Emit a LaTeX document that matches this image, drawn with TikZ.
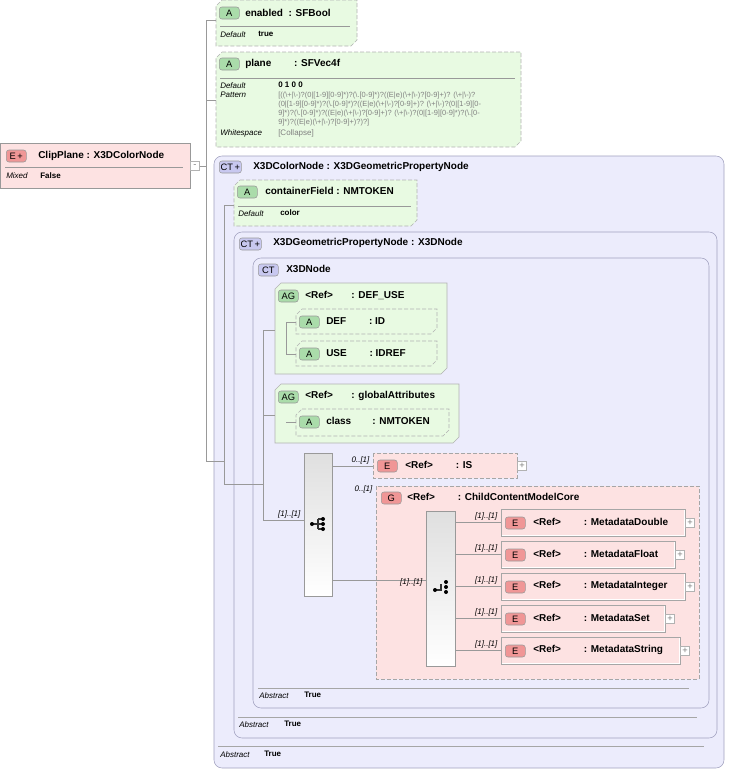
\documentclass[tikz,border=0pt]{standalone}
\usepackage{fontspec}
\setmainfont{Liberation Sans}
\usetikzlibrary{positioning}

\definecolor{pinkfill}{RGB}{253,226,226}
\definecolor{greenfill}{RGB}{232,250,226}
\definecolor{bluefill}{RGB}{236,236,252}
\definecolor{blueedge}{RGB}{160,160,190}
\definecolor{badgered}{RGB}{240,150,150}
\definecolor{badgegreen}{RGB}{170,220,170}
\definecolor{badgeblue}{RGB}{200,200,240}

\tikzset{
  ebox/.style={draw=gray!70, fill=pinkfill},
  gbox/.style={draw=gray!60, fill=greenfill},
  cbox/.style={draw=blueedge, fill=bluefill, rounded corners=6},
  dash box/.style={dashed, dash pattern=on 3pt off 1.5pt},
  title/.style={font=\bfseries\fontsize{7.5}{8}\selectfont, anchor=west, inner sep=0},
  small/.style={font=\fontsize{6}{7}\selectfont, anchor=west, inner sep=0},
  smallbold/.style={font=\bfseries\fontsize{6}{7}\selectfont, anchor=west, inner sep=0},
  tiny/.style={font=\itshape\fontsize{6}{7}\selectfont, anchor=south east, inner sep=1},
  wire/.style={draw=gray!80, line width=0.5pt},
  seqbox/.style={draw=gray!80, left color=gray!25, right color=white, shading angle=0},
  plusbox/.style={draw=gray!60, fill=white, minimum size=7, inner sep=0, font=\fontsize{7}{7}\selectfont, text=gray},
  icon/.style={line width=0.8pt, draw=black!80},
}
% badge: position, text, colour
\newcommand{\badge}[3]{\node[draw=gray!80, fill=#3, rounded corners=2, minimum width=15, minimum height=9,
  inner sep=1, font=\fontsize{7}{7}\selectfont, anchor=west] at (#1) {#2};}
% chamfered box
\newcommand{\chbox}[5]{\draw[#5] (#1+6,#2) -- (#3,#2) -- (#3,#4-6) -- (#3-6,#4) -- (#1,#4) -- (#1,#2+6) -- cycle;}

\begin{document}
\begin{tikzpicture}[x=0.75pt, y=-0.75pt]
\useasboundingbox (0,0) rectangle (729,771);

% outer complex type
\draw[cbox] (214,156) rectangle (724,768);
\draw[cbox] (234,232) rectangle (717,738);
\draw[cbox] (253,258) rectangle (709,708);

% ClipPlane element
\draw[ebox, draw=gray!80] (0,143) rectangle (190,188);
\draw[gray!80] (5,167) -- (183,167);
\badge{6,156}{E\,+}{badgered}
\node[title] (clip) at (38,156) {ClipPlane : X3DColorNode};
\node[small, font=\itshape\fontsize{6}{7}\selectfont] at (6,176) {Mixed};
\node[smallbold] at (40,176) {False};
\node[plusbox] (clipm) at (195,166) {-};

% enabled
\chbox{216}{0}{357}{46}{gbox, dash box}
\draw[gray!80] (220,26) -- (350,26);
\badge{219,13}{A}{badgegreen}
\node[title] (enabled) at (245,13) {enabled \ : SFBool};
\node[small, font=\itshape\fontsize{6}{7}\selectfont] at (220,35) {Default};
\node[smallbold] at (258,34) {true};

% plane
\chbox{216}{52}{521}{147}{gbox, dash box}
\draw[gray!80] (220,78) -- (515,78);
\badge{219,64}{A}{badgegreen}
\node[title] (plane) at (245,64) {plane \qquad : SFVec4f};
\node[small, font=\itshape\fontsize{6}{7}\selectfont] at (220,86) {Default};
\node[small, font=\itshape\fontsize{6}{7}\selectfont] at (220,95) {Pattern};
\node[small, font=\itshape\fontsize{6}{7}\selectfont] at (220,133) {Whitespace};
\node[smallbold] at (278,85) {0 1 0 0};
\node[small, text=gray, anchor=north west, align=left, font=\fontsize{5.6}{6.8}\selectfont] at (278,92)
 {[((\textbackslash+|\textbackslash-)?(0|[1-9][0-9]*)?(\textbackslash.[0-9]*)?((E|e)(\textbackslash+|\textbackslash-)?[0-9]+)? (\textbackslash+|\textbackslash-)?\\
 (0|[1-9][0-9]*)?(\textbackslash.[0-9]*)?((E|e)(\textbackslash+|\textbackslash-)?[0-9]+)? (\textbackslash+|\textbackslash-)?(0|[1-9][0-\\
 9]*)?(\textbackslash.[0-9]*)?((E|e)(\textbackslash+|\textbackslash-)?[0-9]+)? (\textbackslash+|\textbackslash-)?(0|[1-9][0-9]*)?(\textbackslash.[0-\\
 9]*)?((E|e)(\textbackslash+|\textbackslash-)?[0-9]+)?)?]};
\node[small, text=gray] at (278,133) {[Collapse]};

% complex type headers
\badge{219,167}{CT\,+}{badgeblue}
\node[title] at (253,167) {X3DColorNode : X3DGeometricPropertyNode};
\badge{239,244}{CT\,+}{badgeblue}
\node[title] at (273,243) {X3DGeometricPropertyNode : X3DNode};
\badge{258,270}{CT}{badgeblue}
\node[title] at (286,269) {X3DNode};

% containerField
\chbox{234}{180}{417}{226}{gbox, dash box}
\draw[gray!80] (238,206) -- (411,206);
\badge{237,192}{A}{badgegreen}
\node[title] (cfield) at (265,191) {containerField : NMTOKEN};
\node[small, font=\itshape\fontsize{6}{7}\selectfont] at (238,214) {Default};
\node[smallbold] at (280,213) {color};

% DEF_USE group
\chbox{275}{283}{447}{374}{gbox}
\badge{278,296}{AG}{badgegreen}
\node[title] (defuse) at (305,295) {<Ref> \quad\; : DEF\_USE};
\chbox{296}{309}{437}{334}{gbox, dash box}
\badge{299,322}{A}{badgegreen}
\node[title] (def) at (326,321) {DEF \qquad : ID};
\chbox{296}{341}{437}{366}{gbox, dash box}
\badge{299,354}{A}{badgegreen}
\node[title] (use) at (326,353) {USE \qquad : IDREF};

% globalAttributes group
\chbox{275}{384}{459}{443}{gbox}
\badge{278,397}{AG}{badgegreen}
\node[title] (glob) at (305,396) {<Ref> \quad\; : globalAttributes};
\chbox{296}{409}{449}{436}{gbox, dash box}
\badge{299,422}{A}{badgegreen}
\node[title] (class) at (326,421) {class \quad\;\; : NMTOKEN};

% sequence
\draw[seqbox] (304,453) rectangle (332,596);
\draw[icon] (312,524) -- (318,524) (318,519) -- (318,529) (318,519) -- (322,519) (318,524) -- (322,524) (318,529) -- (322,529);
\fill (312,524) circle (2);
\foreach \yy in {519,524,529} \fill (323,\yy) circle (2);

% IS
\draw[ebox, dash box] (373,453) rectangle (517,478);
\badge{377,466}{E}{badgered}
\node[title] (is) at (405,465) {<Ref> \qquad : IS};
\node[plusbox] at (522,466) {+};

% ChildContentModelCore
\draw[ebox, dash box] (376,486) rectangle (699,679);
\badge{381,498}{G}{badgered}
\node[title] (core) at (407,497) {<Ref> \qquad : ChildContentModelCore};

% choice
\draw[seqbox] (426,511) rectangle (455,666);
\draw[icon] (435,590) -- (441,590) -- (441,584);
\fill (435,590) circle (2);
\foreach \yy in {582,587,592} \fill (446,\yy) circle (2);

% metadata elements
\foreach \ty/\rx/\nm in {509/685/MetadataDouble, 541/675/MetadataFloat, 573/685/MetadataInteger, 605/665/MetadataSet, 637/680/MetadataString}{
  \draw[ebox, fill=white, draw=gray!70] (501,\ty) rectangle (\rx,\ty+27);
  \fill[pinkfill] (502,\ty+1) rectangle (\rx-1,\ty+26);
  \badge{505,\ty+14}{E}{badgered}
  \node[title] at (533,\ty+13) {<Ref> \qquad : \nm};
  \node[plusbox] at (\rx+5,\ty+14) {+};
  \draw[wire] (455,\ty+13) -- (501,\ty+13);
  \node[tiny] at (499,\ty+13) {[1]..[1]};
}

% connectors
\draw[wire] (clipm.east) -- (206,166) (206,20) -- (206,461) -- (224,461);
\draw[wire] (206,20) -- (216,20) (206,100) -- (216,100);
\draw[wire] (224,205) -- (224,484) (224,205) -- (234,205) (224,484) -- (263,484);
\draw[wire] (263,330) -- (263,520) (263,330) -- (275,330) (263,415) -- (275,415) (263,520) -- (304,520);
\node[tiny] at (302,520) {[1]..[1]};
\draw[wire] (286,322) -- (286,354) (286,322) -- (296,322) (286,354) -- (296,354);
\draw[wire] (286,422) -- (296,422);
\draw[wire] (332,466) -- (373,466);
\node[tiny] at (371,466) {0..[1]};
\node[tiny] at (374,495) {0..[1]};
\draw[wire] (332,580) -- (426,580);
\node[tiny] at (424,588) {[1]..[1]};

% abstract lines
\draw[gray!70] (258,688) -- (689,688);
\node[small, font=\itshape\fontsize{6}{7}\selectfont] at (259,696) {Abstract};
\node[smallbold] at (304,695) {True};
\draw[gray!70] (238,717) -- (697,717);
\node[small, font=\itshape\fontsize{6}{7}\selectfont] at (239,725) {Abstract};
\node[smallbold] at (284,724) {True};
\draw[gray!70] (218,746) -- (704,746);
\node[small, font=\itshape\fontsize{6}{7}\selectfont] at (220,755) {Abstract};
\node[smallbold] at (264,754) {True};
\end{tikzpicture}
\end{document}
